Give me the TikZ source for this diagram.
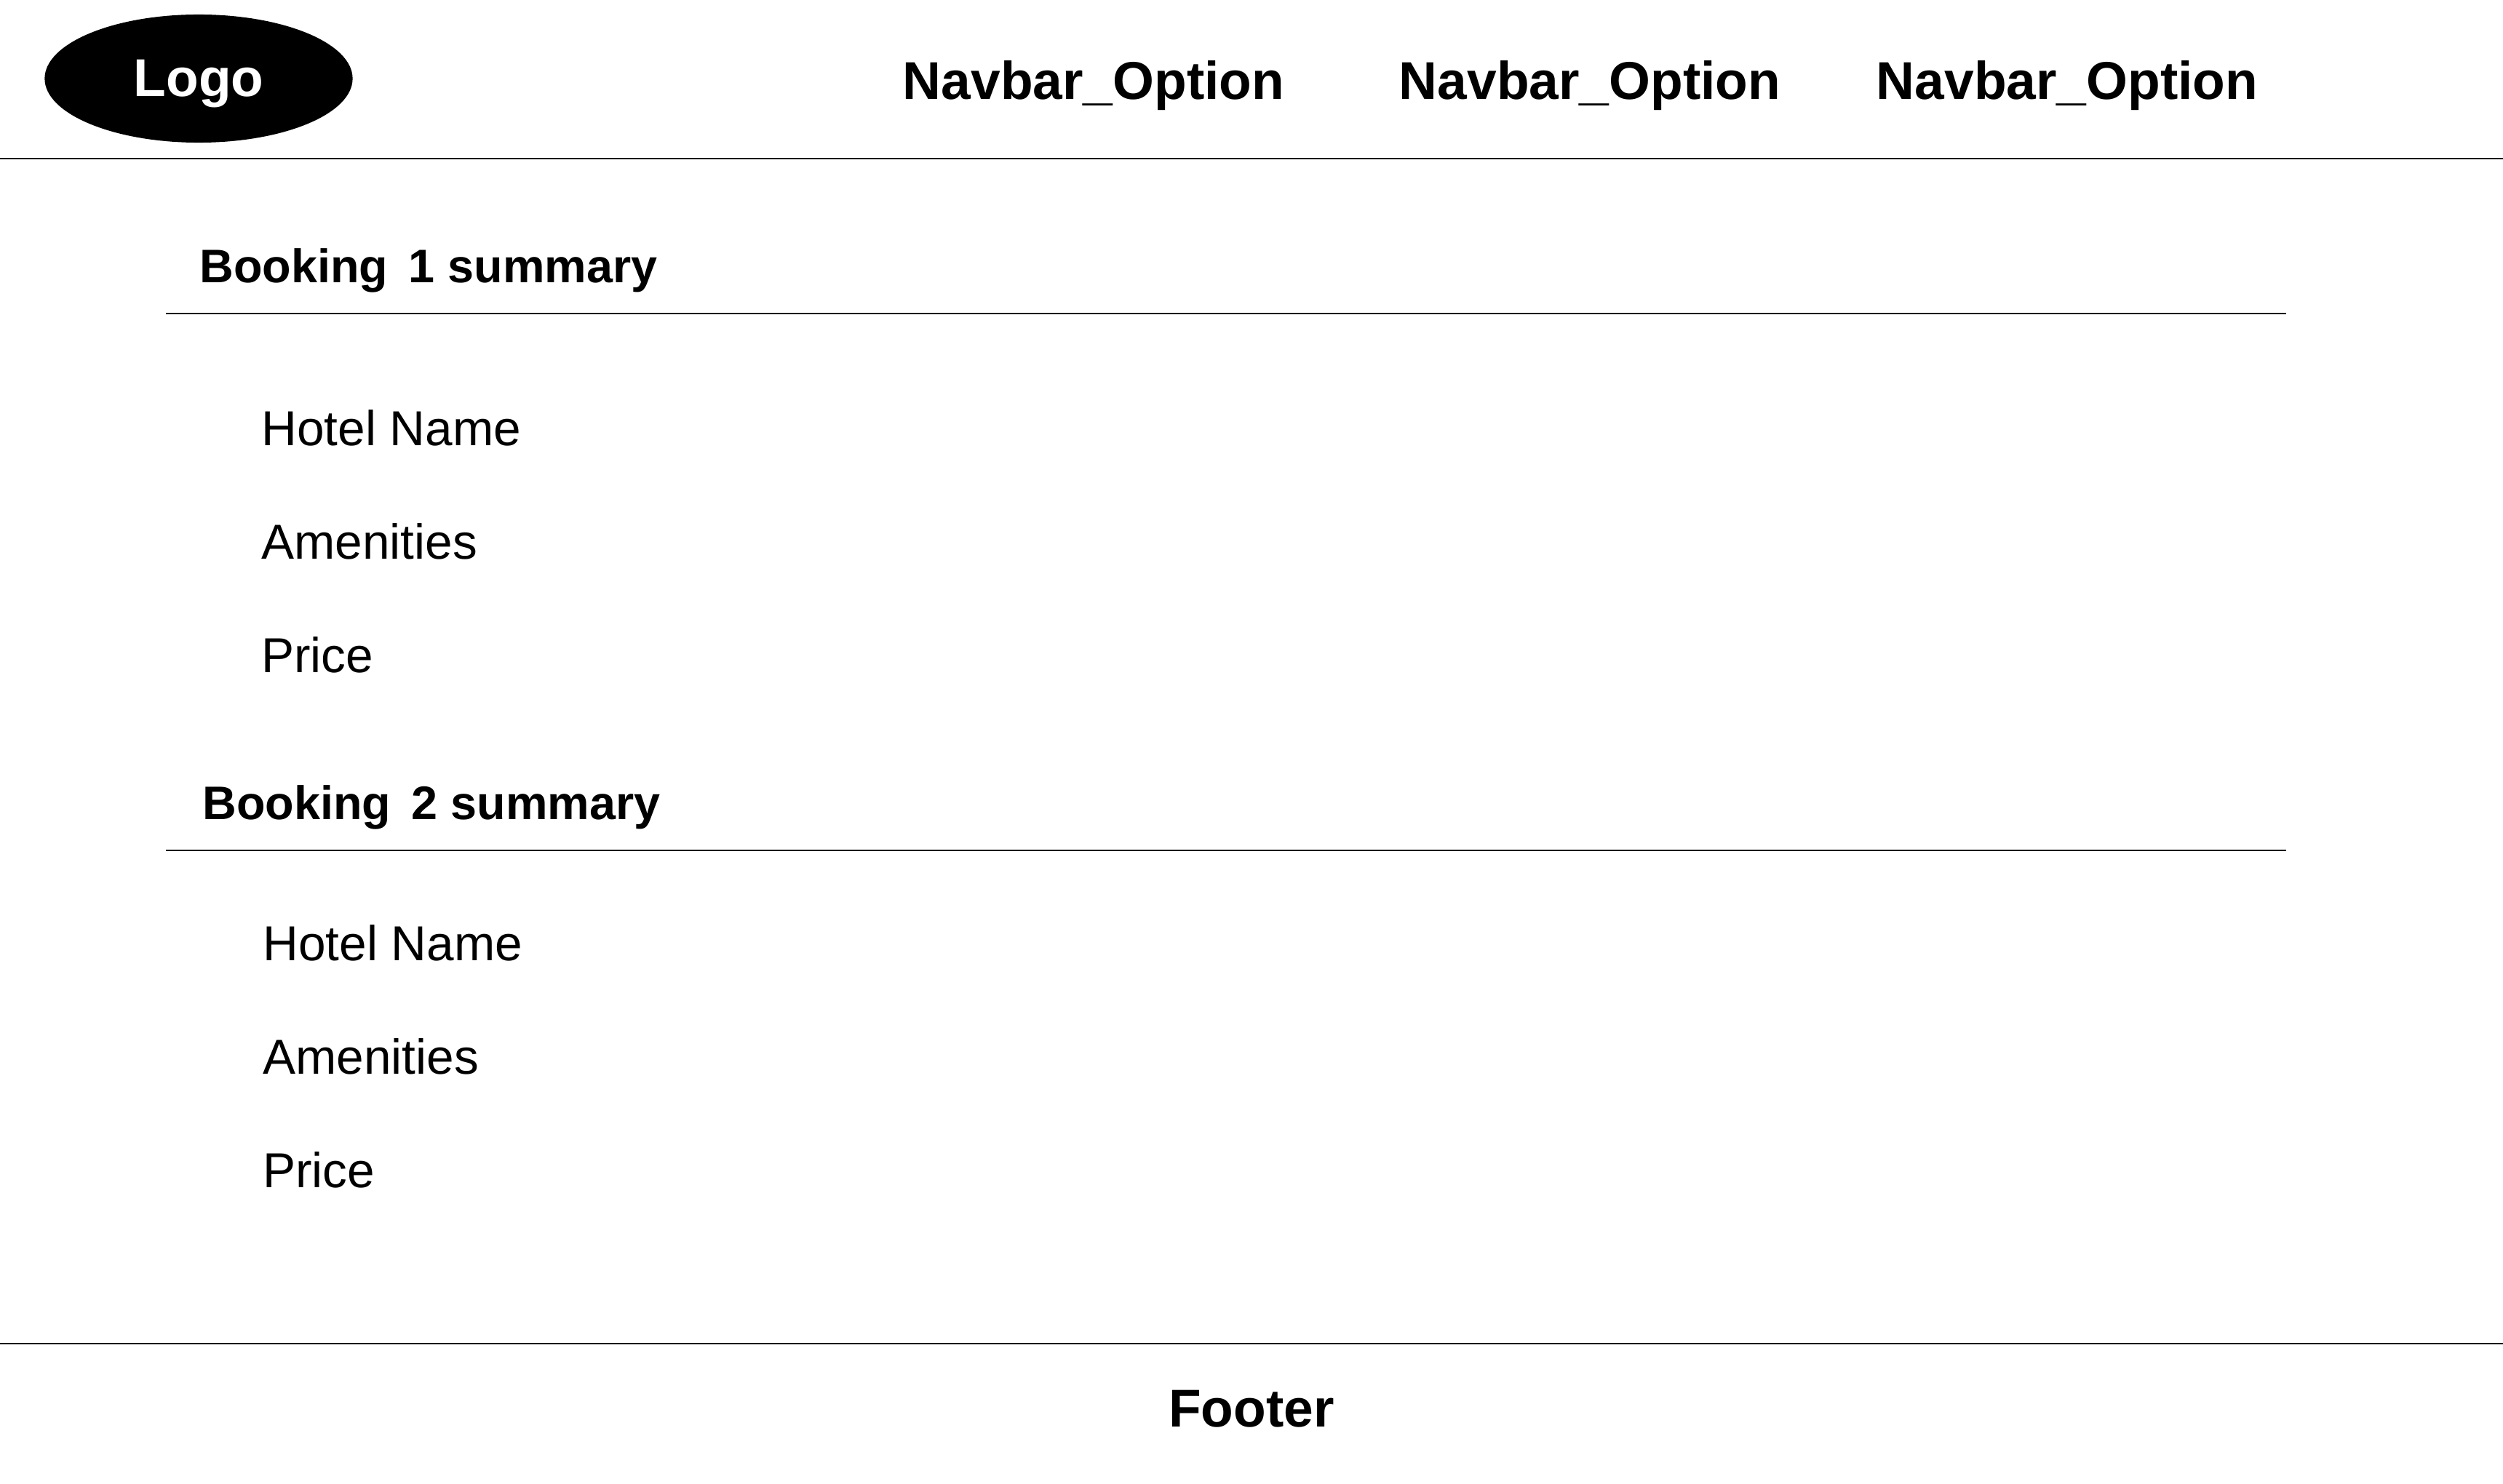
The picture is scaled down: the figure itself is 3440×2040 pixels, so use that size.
\documentclass[tikz,border=0pt]{standalone}
\usepackage{fontspec}
\usetikzlibrary{shapes.geometric}
\setmainfont{Liberation Sans}
\tikzset{
  navtext/.style={font=\bfseries\fontsize{20.8pt}{26pt}\selectfont},
  headtext/.style={anchor=west,font=\bfseries\fontsize{18.4pt}{24pt}\selectfont},
  rowtext/.style={anchor=west,font=\fontsize{19.2pt}{24pt}\selectfont},
  rule/.style={draw=black,line width=0.75pt}
}
\begin{document}
\begin{tikzpicture}[x=0.01cm,y=-0.01cm]
\useasboundingbox (0,0) rectangle (3440,2040);
\node[fill=black,ellipse,minimum width=4.23cm,minimum height=1.76cm,inner sep=0pt] (logo) at (273,108) {};
\node[navtext,text=white] (logotext) at (273,115) {Logo};
\node[navtext] (nav1) at (1503,118) {Navbar\_Option};
\node[navtext] (nav2) at (2185,118) {Navbar\_Option};
\node[navtext] (nav3) at (2841,118) {Navbar\_Option};
\coordinate (navl) at (0,218);
\coordinate (navr) at (3440,218);
\draw[rule] (navl)--(navr);
% first booking
\node[headtext] (head1) at (262,372) {Booking\, 1 summary};
\coordinate (h1l) at (228,431);
\coordinate (h1r) at (3142,431);
\draw[rule] (h1l)--(h1r);
\node[rowtext] (hotel1) at (347,588) {Hotel Name};
\node[rowtext] (amen1) at (347,744) {Amenities};
\node[rowtext] (price1) at (347,900) {Price};
% second booking
\node[headtext] (head2) at (266,1110) {Booking\, 2 summary};
\coordinate (h2l) at (228,1169);
\coordinate (h2r) at (3142,1169);
\draw[rule] (h2l)--(h2r);
\node[rowtext] (hotel2) at (349,1296) {Hotel Name};
\node[rowtext] (amen2) at (349,1452) {Amenities};
\node[rowtext] (price2) at (349,1608) {Price};
% footer
\coordinate (footl) at (0,1847);
\coordinate (footr) at (3440,1847);
\draw[rule] (footl)--(footr);
\node[navtext] (foot) at (1720,1937) {Footer};
\end{tikzpicture}
\end{document}
